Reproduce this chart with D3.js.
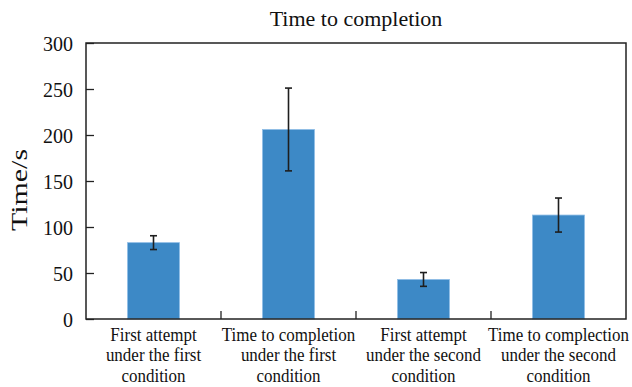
<!DOCTYPE html>
<html>
<head>
<meta charset="utf-8">
<script src="https://cdn.jsdelivr.net/npm/d3@7"></script>
</head>
<body style="margin:0;background:#fff">
<div id="chart"></div>
<script>
// chart data
var categories = [
    ["First attempt", "under the first", "condition"],
    ["Time to completion", "under the first", "condition"],
    ["First attempt", "under the second", "condition"],
    ["Time to complection", "under the second", "condition"]
];
var meanTimes = [83, 206, 43, 113];
var errTimes = [7.5, 45, 7.5, 18.5];
var yTicks = [0, 50, 100, 150, 200, 250, 300];

var svgWidth = 632;
var svgHeight = 387;
var serif = "Liberation Serif";

var margin = {
    top : 43,
    right : 6,
    bottom : 68,
    left : 86
}

var width = svgWidth - margin.left - margin.right;
var height = svgHeight - margin.bottom - margin.top;

var svg = d3.select("#chart")
    .append("svg")
    .attr("width", svgWidth)
    .attr("height", svgHeight);

var chartGroup = svg.append("g")
    .attr("transform", `translate(${margin.left}, ${margin.top})`);

var idx = d3.range(categories.length);

//Scales
var xBand = d3.scaleBand()
    .domain(idx)
    .range([0, width])
    .paddingInner(0)
    .paddingOuter(0);

var yLinearScale = d3.scaleLinear()
    .domain([0, 300])
    .range([height, 0]);

//Bars
var barW = xBand.bandwidth() * 0.385;
chartGroup.selectAll("rect.bar")
    .data(idx)
    .enter()
    .append("rect")
    .attr("class", "bar")
    .attr("x", d => xBand(d) + (xBand.bandwidth() - barW) / 2)
    .attr("y", d => yLinearScale(meanTimes[d]))
    .attr("width", barW)
    .attr("height", d => height - yLinearScale(meanTimes[d]))
    .attr("fill", "#3d89c6")
    .attr("stroke", "#8fbde6")
    .attr("stroke-width", 0.8);

//Error bars
var errG = chartGroup.selectAll("g.err")
    .data(idx)
    .enter()
    .append("g")
    .attr("class", "err")
    .attr("stroke", "#1e1e1e")
    .attr("stroke-width", 1.6);

var cx = d => xBand(d) + xBand.bandwidth() / 2;
errG.append("line")
    .attr("x1", cx).attr("x2", cx)
    .attr("y1", d => yLinearScale(meanTimes[d] + errTimes[d]))
    .attr("y2", d => yLinearScale(meanTimes[d] - errTimes[d]));
errG.append("line")
    .attr("x1", d => cx(d) - 3.5).attr("x2", d => cx(d) + 3.5)
    .attr("y1", d => yLinearScale(meanTimes[d] + errTimes[d]))
    .attr("y2", d => yLinearScale(meanTimes[d] + errTimes[d]));
errG.append("line")
    .attr("x1", d => cx(d) - 3.5).attr("x2", d => cx(d) + 3.5)
    .attr("y1", d => yLinearScale(meanTimes[d] - errTimes[d]))
    .attr("y2", d => yLinearScale(meanTimes[d] - errTimes[d]));

//Axes
var leftAxis = d3.axisLeft(yLinearScale)
    .tickValues(yTicks)
    .tickSize(-8)
    .tickPadding(13);

var yAxisG = chartGroup.append("g")
    .call(leftAxis);
yAxisG.select(".domain").remove();
yAxisG.selectAll("line").attr("stroke", "#222").attr("stroke-width", 1.3);
yAxisG.selectAll("text")
    .attr("fill", "#111")
    .attr("dy", "0.36em")
    .style("font-family", serif)
    .style("font-size", "20px");

// category boundary ticks on the bottom edge
chartGroup.selectAll("line.xtick")
    .data(idx.slice(1))
    .enter()
    .append("line")
    .attr("class", "xtick")
    .attr("x1", d => xBand(d)).attr("x2", d => xBand(d))
    .attr("y1", height).attr("y2", height - 8)
    .attr("stroke", "#222")
    .attr("stroke-width", 1.3);

//Frame
chartGroup.append("rect")
    .attr("width", width)
    .attr("height", height)
    .attr("fill", "none")
    .attr("stroke", "#222")
    .attr("stroke-width", 1.5);

//Category labels (slightly stretched vertically like the source)
var catG = chartGroup.selectAll("g.cat")
    .data(idx)
    .enter()
    .append("g")
    .attr("class", "cat")
    .attr("transform", d => `translate(${cx(d)}, ${height + 22}) scale(1, 1.15)`);

catG.append("text")
    .attr("text-anchor", "middle")
    .attr("fill", "#111")
    .style("font-family", serif)
    .style("font-size", "17px")
    .selectAll("tspan")
    .data(d => categories[d])
    .enter()
    .append("tspan")
    .attr("x", 0)
    .attr("y", (d, j) => j * 20.5 / 1.15)
    .text(d => d);

//Title and axis label
svg.append("text")
    .attr("x", margin.left + width / 2)
    .attr("y", 26)
    .attr("text-anchor", "middle")
    .attr("fill", "#111")
    .style("font-family", serif)
    .style("font-size", "22px")
    .text("Time to completion");

svg.append("text")
    .attr("transform", `translate(27, ${margin.top + height / 2 + 9}) rotate(-90) scale(1.25, 1)`)
    .attr("text-anchor", "middle")
    .attr("fill", "#111")
    .style("font-family", serif)
    .style("font-size", "24px")
    .text("Time/s");
</script>
</body>
</html>
